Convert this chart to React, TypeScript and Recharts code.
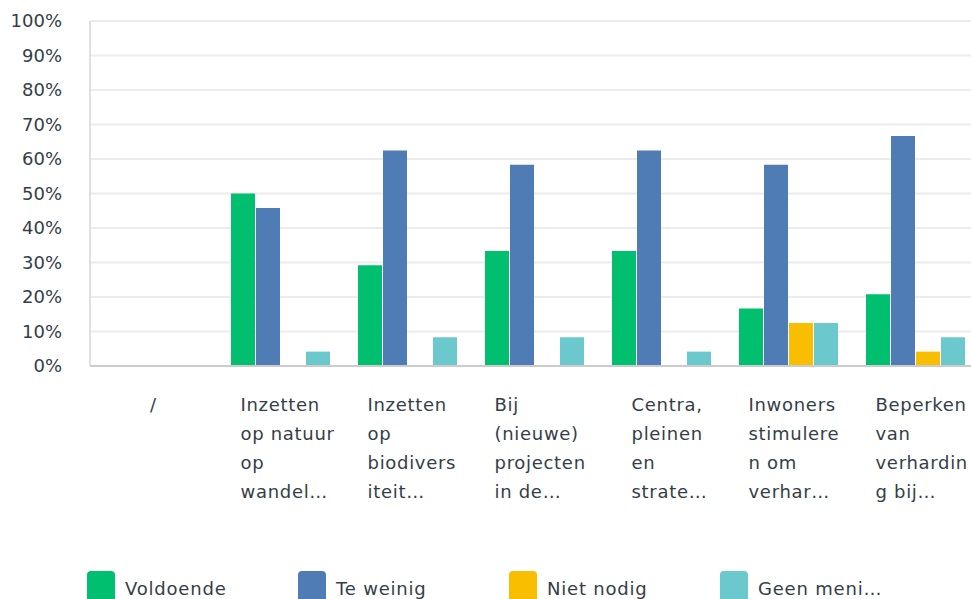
import { BarChart, Bar, XAxis, YAxis, CartesianGrid, Legend } from "recharts";

const categories = [
  "/",
  "Inzetten op natuur op wandel...",
  "Inzetten op biodiversiteit...",
  "Bij (nieuwe) projecten in de...",
  "Centra, pleinen en strate...",
  "Inwoners stimuleren om verhar...",
  "Beperken van verharding bij...",
];

// wrapped tick labels, as shown under the axis
const tickLines = [
  ["/"],
  ["Inzetten", "op natuur", "op", "wandel…"],
  ["Inzetten", "op", "biodivers", "iteit…"],
  ["Bij", "(nieuwe)", "projecten", "in de…"],
  ["Centra,", "pleinen", "en", "strate…"],
  ["Inwoners", "stimulere", "n om", "verhar…"],
  ["Beperken", "van", "verhardin", "g bij…"],
];

const voldoende = [0, 50, 29.17, 33.33, 33.33, 16.67, 20.83];
const teWeinig = [0, 45.83, 62.5, 58.33, 62.5, 58.33, 66.67];
const nietNodig = [0, 0, 0, 0, 0, 12.5, 4.17];
const geenMening = [0, 4.17, 8.33, 8.33, 4.17, 12.5, 8.33];

const yTicks = [0, 10, 20, 30, 40, 50, 60, 70, 80, 90, 100];

const series = [
  { key: "voldoende", name: "Voldoende", color: "#00BF6F" },
  { key: "teWeinig", name: "Te weinig", color: "#507CB6" },
  { key: "nietNodig", name: "Niet nodig", color: "#F9BE00" },
  { key: "geenMening", name: "Geen meni…", color: "#6BC8CD" },
];

const data = categories.map((name, i) => ({
  name,
  voldoende: voldoende[i],
  teWeinig: teWeinig[i],
  nietNodig: nietNodig[i],
  geenMening: geenMening[i],
}));

const textColor = "#333e48";

const XTick = ({ x, y, payload }: any) => {
  const lines = tickLines[payload.index] || [];
  const single = lines.length === 1;
  // short labels sit a bit further right
  const maxLen = Math.max(...lines.map((l) => l.length));
  const tx = single ? x : x - (maxLen <= 7 ? 30 : 40);
  return (
    <text
      x={tx}
      y={y}
      textAnchor={single ? "middle" : "start"}
      fill={textColor}
      fontSize={18}
      letterSpacing={0.7}
    >
      {lines.map((line, i) => (
        <tspan key={i} x={tx} dy={i === 0 ? 45 : 29}>
          {line}
        </tspan>
      ))}
    </text>
  );
};

const LegendContent = () => (
  <div style={{ position: "relative", height: 40 }}>
    {series.map((s, i) => (
      <div
        key={s.key}
        style={{ position: "absolute", left: 87 + i * 211, top: 0, display: "flex" }}
      >
        <div
          style={{
            width: 28,
            height: 32,
            borderRadius: 4,
            background: s.color,
          }}
        />
        <span
          style={{
            marginLeft: 10,
            marginTop: 7,
            fontSize: 18,
            letterSpacing: 0.8,
            color: textColor,
            lineHeight: "22px",
            whiteSpace: "nowrap",
          }}
        >
          {s.name}
        </span>
      </div>
    ))}
  </div>
);

export default function App() {
  return (
    <div
      style={{
        position: "absolute",
        left: 0,
        top: 0,
        width: 971,
        height: 599,
        overflow: "hidden",
        background: "#fff",
        fontFamily: "'DejaVu Sans', sans-serif",
      }}
    >
      <BarChart
        width={979}
        height={599}
        data={data}
        margin={{ top: 21, right: 0, bottom: 0, left: 0 }}
        barSize={24}
        barGap={1}
      >
        <CartesianGrid vertical={false} stroke="#ececec" strokeWidth={2} />
        <XAxis
          dataKey="name"
          height={233}
          interval={0}
          tickLine={false}
          tickSize={0}
          tickMargin={0}
          axisLine={{ stroke: "#cccccc", strokeWidth: 2 }}
          tick={<XTick />}
        />
        <YAxis
          width={90}
          domain={[0, 100]}
          ticks={yTicks}
          tickFormatter={(v) => `${v}%`}
          tickLine={false}
          tickSize={0}
          tickMargin={28}
          axisLine={{ stroke: "#d6d6d6", strokeWidth: 1.5 }}
          tick={{ fill: textColor, fontSize: 18 }}
        />
        <Legend
          layout="horizontal"
          verticalAlign="middle"
          align="center"
          wrapperStyle={{ top: 571, left: 0, width: 971, height: 40 }}
          content={<LegendContent />}
        />
        {series.map((s) => (
          <Bar
            key={s.key}
            dataKey={s.key}
            name={s.name}
            fill={s.color}
            isAnimationActive={false}
          />
        ))}
      </BarChart>
    </div>
  );
}
